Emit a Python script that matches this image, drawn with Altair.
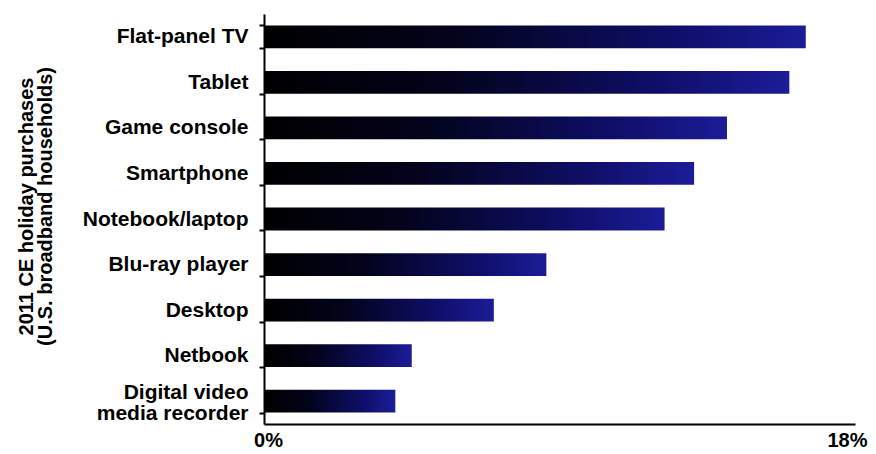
import altair as alt
import pandas as pd

# Data
categories = [
    "Flat-panel TV",
    "Tablet",
    "Game console",
    "Smartphone",
    "Notebook/laptop",
    "Blu-ray player",
    "Desktop",
    "Netbook",
    "Digital video|media recorder",
]
values = [16.5, 16.0, 14.1, 13.1, 12.2, 8.6, 7.0, 4.5, 4.0]
x_ticks = [0, 18]
y_title = ["2011 CE holiday purchases", "(U.S. broadband households)"]

df = pd.DataFrame({"device": categories, "share": values})

FONT = "Liberation Sans"

gradient = alt.Gradient(
    gradient="linear",
    stops=[
        alt.GradientStop(offset=0, color="#000000"),
        alt.GradientStop(offset=0.35, color="#03031c"),
        alt.GradientStop(offset=0.75, color="#0e0e68"),
        alt.GradientStop(offset=1, color="#1c1c98"),
    ],
    x1=0, x2=1, y1=0, y2=0,
)

chart = (
    alt.Chart(df)
    .mark_bar(color=gradient)
    .encode(
        x=alt.X(
            "share:Q",
            scale=alt.Scale(domain=[0, 18], nice=False, zero=True),
            axis=alt.Axis(
                values=x_ticks,
                labelExpr="datum.value + '%'",
                title=None,
                grid=False,
                ticks=False,
                domainColor="black",
                domainWidth=2,
                labelFont=FONT,
                labelFontSize=20,
                labelFontWeight="bold",
                labelColor="black",
                labelPadding=6,
                labelFlush=False,
                labelAlign={
                    "condition": {"test": "datum.value >= 18", "value": "right"},
                    "value": "center",
                },
                labelOffset={
                    "condition": {"test": "datum.value >= 18", "value": 12},
                    "value": 4,
                },
            ),
        ),
        y=alt.Y(
            "device:N",
            sort=categories,
            scale=alt.Scale(paddingInner=0.5, paddingOuter=0.25),
            axis=alt.Axis(
                title=y_title,
                tickBand="extent",
                tickSize=5,
                tickWidth=2,
                tickColor="black",
                domainColor="black",
                domainWidth=2,
                labelExpr="split(datum.label, '|')",
                labelFont=FONT,
                labelFontSize=21,
                labelFontWeight="bold",
                labelColor="black",
                labelPadding=11,
                labelLineHeight=21,
                labelBaseline="middle",
                labelOffset={
                    "condition": {"test": "indexof(datum.label, '|') >= 0", "value": -9},
                    "value": 0,
                },
                titleFont=FONT,
                titleFontSize=20,
                titleFontWeight="bold",
                titleColor="black",
                titleLineHeight=19,
                titleAngle=270,
                titleAlign="center",
                titleBaseline="middle",
                titleX=-238,
                titleY=192,
            ),
        ),
    )
    .properties(
        width=591,
        height=410,
        autosize=alt.AutoSizeParams(type="none"),
        padding={"left": 256, "top": 6, "right": 13, "bottom": 30},
    )
    .configure_view(stroke=None)
)

chart.save("out.html", embed_options={"renderer": "svg", "actions": False})
